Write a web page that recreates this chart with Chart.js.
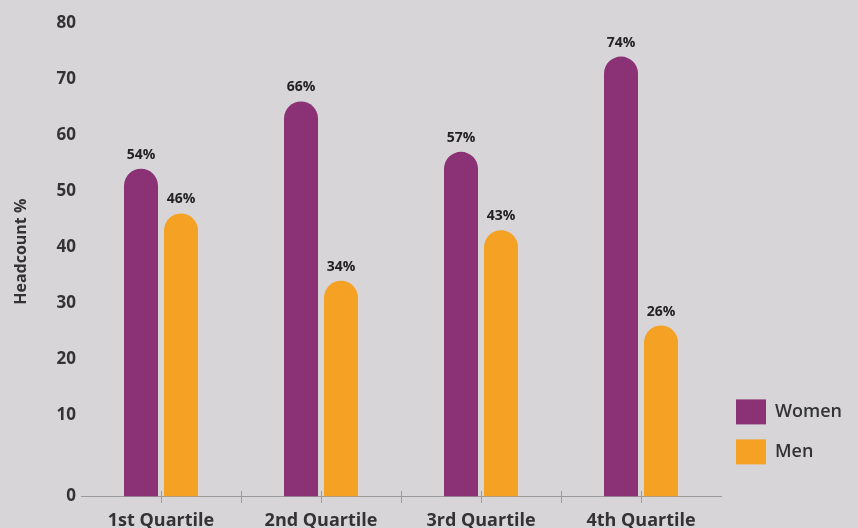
<!DOCTYPE html>
<html>
<head>
<meta charset="utf-8">
<script src="https://cdn.jsdelivr.net/npm/chart.js@4.4.1/dist/chart.umd.min.js"></script>
<style>
  html, body { margin: 0; padding: 0; background: #d7d5d8; overflow: hidden; }
  #wrap { width: 858px; height: 546px; position: relative; }
</style>
</head>
<body>
<div id="wrap"><canvas id="c"></canvas></div>
<script>
// ---- data ----
const categories = ['1st Quartile', '2nd Quartile', '3rd Quartile', '4th Quartile'];
const women = [54, 66, 57, 74];
const men = [46, 34, 43, 26];
const seriesNames = ['Women', 'Men'];
const yTickValues = [10, 20, 30, 40, 50, 60, 70, 80];

// ---- style ----
const PURPLE = '#8a3275';
const ORANGE = '#f4a124';
const TEXT = '#333333';
const AXIS_FLOOR = -4.5; // axis line sits a little below the zero value in the source
const FONT = '"Open Sans", Lato, sans-serif';

const valueLabels = {
  id: 'valueLabels',
  afterDatasetsDraw(chart) {
    const ctx = chart.ctx;
    ctx.save();
    ctx.font = 'bold 14px ' + FONT;
    ctx.fillStyle = '#222222';
    ctx.textAlign = 'center';
    ctx.textBaseline = 'middle';
    chart.data.datasets.forEach((ds, di) => {
      chart.getDatasetMeta(di).data.forEach((bar, i) => {
        ctx.fillText(ds.data[i] + '%', bar.x, bar.y - 14);
      });
    });
    ctx.restore();
  }
};

const crossTicks = {
  id: 'crossTicks',
  afterDraw(chart) {
    const xs = chart.scales.x;
    const ctx = chart.ctx;
    const y = chart.chartArea.bottom + 0.5;
    const n = categories.length;
    const half = (xs.getPixelForValue(1) - xs.getPixelForValue(0)) / 2;
    ctx.save();
    ctx.strokeStyle = '#9a9a9a';
    ctx.lineWidth = 1;
    ctx.beginPath();
    for (let i = 0; i < n; i++) {
      const c = Math.round(xs.getPixelForValue(i)) + 0.5;
      ctx.moveTo(c, y - 6); ctx.lineTo(c, y + 6);
      if (i > 0) {
        const b = Math.round(xs.getPixelForValue(i) - half) + 0.5;
        ctx.moveTo(b, y - 6); ctx.lineTo(b, y + 6);
      }
    }
    ctx.stroke();
    ctx.restore();
  }
};

const radius = { topLeft: 20, topRight: 20, bottomLeft: 0, bottomRight: 0 };

new Chart(document.getElementById('c'), {
  type: 'bar',
  data: {
    labels: categories,
    datasets: [
      { label: seriesNames[0], data: women, backgroundColor: PURPLE, borderRadius: radius, borderSkipped: false, base: AXIS_FLOOR },
      { label: seriesNames[1], data: men, backgroundColor: ORANGE, borderRadius: radius, borderSkipped: false, base: AXIS_FLOOR }
    ]
  },
  options: {
    responsive: true,
    maintainAspectRatio: false,
    animation: false,
    categoryPercentage: 0.5,
    barPercentage: 0.85,
    layout: { padding: { top: 23, left: 12, right: 6, bottom: 0 } },
    plugins: {
      tooltip: { enabled: false },
      legend: {
        position: 'right',
        align: 'start',
        title: { display: true, text: ' ', font: { size: 12 }, padding: { top: 347, bottom: 0 } },
        labels: {
          boxWidth: 30,
          boxHeight: 25,
          padding: 15,
          color: TEXT,
          font: { family: FONT, size: 18, weight: '600' }
        }
      }
    },
    scales: {
      x: {
        grid: { display: false, drawTicks: false },
        border: { display: true, color: '#9a9a9a', width: 1 },
        ticks: { color: TEXT, padding: 14, font: { family: FONT, size: 18, weight: 'bold' } }
      },
      y: {
        min: AXIS_FLOOR,
        max: 80,
        grid: { display: false, drawTicks: false },
        border: { display: false },
        afterBuildTicks(scale) {
          scale.ticks = [AXIS_FLOOR].concat(yTickValues).map(v => ({ value: v }));
        },
        afterFit(scale) { scale.width = 69; },
        ticks: {
          color: TEXT,
          padding: 5,
          font: { family: FONT, size: 17, weight: 'bold' },
          callback: (v) => (v === AXIS_FLOOR ? '0' : String(v))
        },
        title: {
          display: true,
          text: '\u2002\u2002Headcount %',
          color: TEXT,
          padding: { top: 0, bottom: 0 },
          font: { family: FONT, size: 16, weight: 'bold' }
        }
      }
    }
  },
  plugins: [valueLabels, crossTicks]
});
</script>
</body>
</html>
